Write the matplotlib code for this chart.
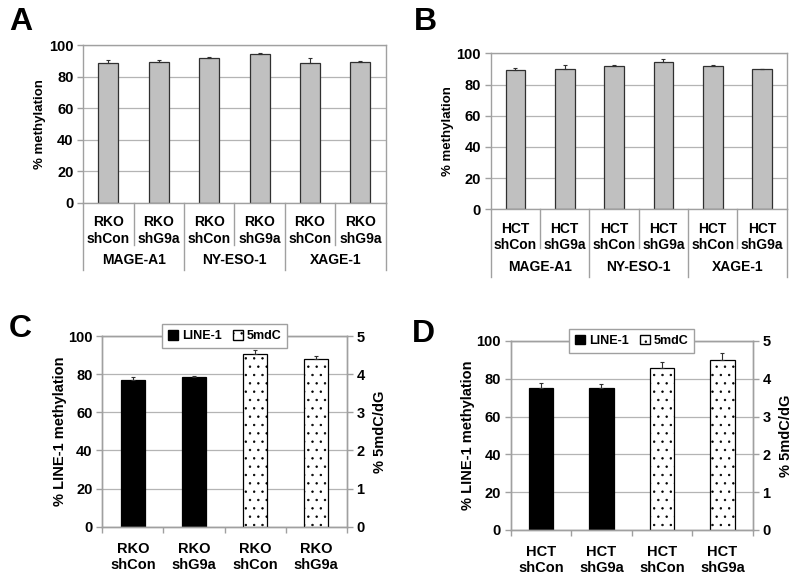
import numpy as np
import matplotlib
matplotlib.use("Agg")
import matplotlib.pyplot as plt
from matplotlib.patches import Patch

plt.rcParams['font.family'] = ['Liberation Sans', 'DejaVu Sans']
plt.rcParams['font.weight'] = 'bold'
plt.rcParams['axes.labelweight'] = 'bold'
plt.rcParams['hatch.linewidth'] = 0.5

# gene specific methylation (panels A, B)
genes = ["MAGE-A1", "NY-ESO-1", "XAGE-1"]
rko_labels = ["RKO\nshCon", "RKO\nshG9a"] * 3
hct_labels = ["HCT\nshCon", "HCT\nshG9a"] * 3
rko_methyl = [88.4, 89.0, 91.5, 94.1, 88.4, 89.4]
rko_methyl_err = [1.9, 1.3, 1.1, 0.6, 3.1, 0.7]
hct_methyl = [89.1, 90.0, 92.1, 94.7, 92.1, 89.7]
hct_methyl_err = [1.7, 2.3, 0.2, 1.9, 0.2, 0.5]

# global methylation (panels C, D)
rko_global_labels = ["RKO\nshCon", "RKO\nshG9a", "RKO\nshCon", "RKO\nshG9a"]
hct_global_labels = ["HCT\nshCon", "HCT\nshG9a", "HCT\nshCon", "HCT\nshG9a"]
rko_line1 = [76.9, 78.5]
rko_line1_err = [1.4, 0.3]
rko_5mdc = [4.52, 4.41]
rko_5mdc_err = [0.12, 0.07]
hct_line1 = [75.3, 75.0]
hct_line1_err = [2.3, 2.1]
hct_5mdc = [4.28, 4.49]
hct_5mdc_err = [0.17, 0.18]

GRID = "#b4b4b4"
SPINE = "#a0a0a0"


def style_frame(ax):
    for s in ax.spines.values():
        s.set_color(SPINE)
        s.set_linewidth(1.0)
    ax.yaxis.grid(True, color=GRID, linewidth=0.9)
    ax.set_axisbelow(True)
    ax.tick_params(axis="y", colors=SPINE, length=4, width=1.0, labelcolor="black",
                   labelsize=10.5, pad=3)


def plot_gene_panel(ax, values, errs, labels, sub_depth, grp_depth, grp_y):
    x = np.arange(len(values))
    ax.bar(x, values, width=0.4, color="#c0c0c0", edgecolor="#303030", linewidth=0.9, zorder=2)
    ax.errorbar(x, values, yerr=[np.zeros(len(errs)), errs], fmt="none",
                ecolor="#303030", elinewidth=0.8, capsize=1.6, capthick=0.8, zorder=3)
    ax.set_xlim(-0.5, len(values) - 0.5)
    ax.set_ylim(0, 100)
    ax.set_yticks(range(0, 101, 20))
    style_frame(ax)
    ax.set_xticks(x, labels)
    ax.tick_params(axis="x", length=0, pad=9, labelsize=10)
    ax.set_ylabel("% methylation", fontsize=9.5, labelpad=2)

    tr = ax.get_xaxis_transform()
    for b in np.arange(len(values) + 1) - 0.5:
        depth = grp_depth if int(b + 0.5) % 2 == 0 else sub_depth
        ax.plot([b, b], [0, depth], color=SPINE, linewidth=1.0, transform=tr, clip_on=False)
    for i, g in enumerate(genes):
        ax.text(2 * i + 0.5, grp_y, g, transform=tr, ha="center", va="center", fontsize=10)


def plot_global_panel(ax, line1, line1_err, mdc, mdc_err, labels):
    ax2 = ax.twinx()
    x1 = np.arange(len(line1))
    x2 = np.arange(len(mdc)) + len(line1)
    ax.bar(x1, line1, width=0.4, color="black", edgecolor="black", linewidth=0.9, zorder=2)
    ax.errorbar(x1, line1, yerr=[np.zeros(len(line1_err)), line1_err], fmt="none",
                ecolor="#303030", elinewidth=0.8, capsize=1.6, capthick=0.8, zorder=3)
    ax2.bar(x2, mdc, width=0.4, color="white", edgecolor="black", linewidth=0.9,
            hatch="..", zorder=2)
    ax2.errorbar(x2, mdc, yerr=[np.zeros(len(mdc_err)), mdc_err], fmt="none",
                 ecolor="#303030", elinewidth=0.8, capsize=1.6, capthick=0.8, zorder=3)

    n = len(line1) + len(mdc)
    ax.set_xlim(-0.5, n - 0.5)
    ax.set_ylim(0, 100)
    ax.set_yticks(range(0, 101, 20))
    ax2.set_ylim(0, 5)
    ax2.set_yticks(range(0, 6))
    style_frame(ax)
    style_frame(ax2)
    ax2.yaxis.grid(False)

    ax.set_xticks(np.arange(n + 1) - 0.5)
    ax.set_xticklabels([])
    ax.tick_params(axis="x", which="major", colors=SPINE, length=4, width=1.0)
    ax.set_xticks(np.arange(n), labels, minor=True)
    ax.tick_params(axis="x", which="minor", length=0, pad=11, labelsize=10.5)

    ax.set_ylabel("% LINE-1 methylation", fontsize=10.5, labelpad=1)
    ax2.set_ylabel("% 5mdC/dG", fontsize=10.5, rotation=90, labelpad=6)

    handles = [Patch(facecolor="black", edgecolor="black", label="LINE-1"),
               Patch(facecolor="white", edgecolor="black", hatch="..", label="5mdC")]
    leg = ax2.legend(handles=handles, loc="center", bbox_to_anchor=(0.5, 1.0), ncol=2,
                     frameon=True, fancybox=False, edgecolor=SPINE, framealpha=1,
                     prop={"size": 9, "weight": "bold"}, handlelength=0.8, handleheight=0.8,
                     handletextpad=0.3, columnspacing=0.9, borderpad=0.45,
                     borderaxespad=0.0)
    leg.get_frame().set_linewidth(1.0)
    return ax2


if __name__ == '__main__':
    fig = plt.figure(figsize=(8.0, 5.86), dpi=100)

    ax_a = fig.add_axes([0.104, 0.6536, 0.378, 0.2696])
    plot_gene_panel(ax_a, rko_methyl, rko_methyl_err, rko_labels, -0.266, -0.424, -0.36)

    ax_b = fig.add_axes([0.6134, 0.6428, 0.370, 0.2662])
    plot_gene_panel(ax_b, hct_methyl, hct_methyl_err, hct_labels, -0.25, -0.435, -0.37)

    ax_c = fig.add_axes([0.1279, 0.1012, 0.3055, 0.3254])
    plot_global_panel(ax_c, rko_line1, rko_line1_err, rko_5mdc, rko_5mdc_err, rko_global_labels)

    ax_d = fig.add_axes([0.6384, 0.0956, 0.3025, 0.3225])
    plot_global_panel(ax_d, hct_line1, hct_line1_err, hct_5mdc, hct_5mdc_err, hct_global_labels)

    for letter, (px, py) in zip("ABCD", [(9, 7), (414, 7), (9, 314), (412, 319)]):
        fig.text(px / 800, 1 - py / 586, letter, fontsize=23, fontweight="bold",
                 ha="left", va="top")

    fig.savefig("out.png", dpi=100)
